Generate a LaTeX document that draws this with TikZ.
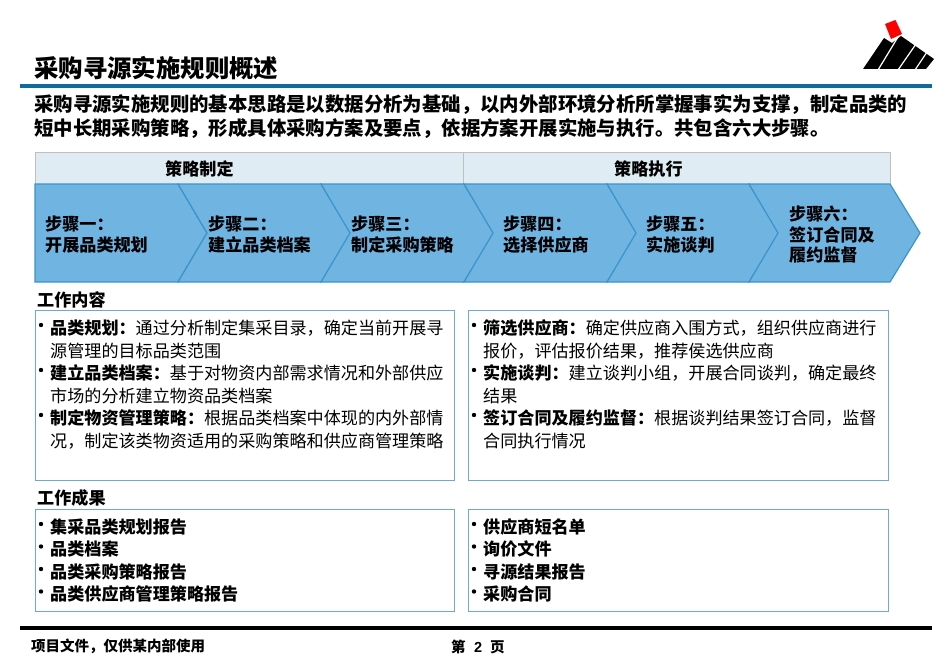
\documentclass[tikz,border=0pt]{standalone}
\usepackage{fontspec}
\setmainfont{Noto Sans CJK SC}
\setsansfont{Liberation Sans}
\definecolor{rulecol}{HTML}{0F6A9E}
\definecolor{headfill}{HTML}{DFECF4}
\definecolor{stepfill}{HTML}{70B4E1}
\definecolor{stepline}{HTML}{3B94C9}
\definecolor{boxline}{HTML}{6FA9CB}
\tikzset{
  ttl/.style={anchor=west,inner sep=0,font=\bfseries\fontsize{24.4}{26}\selectfont},
  lead/.style={anchor=west,inner sep=0,font=\bfseries\fontsize{19.4}{22}\selectfont},
  txt/.style={anchor=west,inner sep=0,font=\fontsize{17.1}{20}\selectfont},
  btxt/.style={txt,font=\bfseries\fontsize{17.1}{20}\selectfont},
  foot/.style={anchor=west,inner sep=0,font=\bfseries\fontsize{14.5}{16}\selectfont},
  headbox/.style={anchor=north west,draw=black!25,fill=headfill,line width=1pt,inner sep=0,minimum width=428pt,minimum height=32pt},
  workbox/.style={anchor=north west,draw=boxline,line width=1.2pt,inner sep=0,minimum width=419pt},
  dot/.style={circle,fill=black,inner sep=0,minimum size=4.4pt}
}
\begin{document}
\begin{tikzpicture}[x=1pt,y=-1pt]
\useasboundingbox (0,0) rectangle (950,658);
% logo
\fill [red] (885,24)--(895.5,20)--(902,34)--(891,39)--cycle;
\fill [black] (863,69)--(884,38)--(892,43)--(901,36)--(934,59)--(926,69)--cycle;
\draw [white, line width=1.2pt] (878,70)--(898,37) (898,70)--(916,44) (915,70)--(927,52);
% title
\node [ttl] (title) at (34,68) {采购寻源实施规则概述};
\draw [rulecol, line width=3.5pt] (20,86)--(932,86);
\node [lead] (leadone) at (34,105) {采购寻源实施规则的基本思路是以数据分析为基础，以内外部环境分析所掌握事实为支撑，制定品类的};
\node [lead] (leadtwo) at (34,128.5) {短中长期采购策略，形成具体采购方案及要点，依据方案开展实施与执行。共包含六大步骤。};
% phases
\node [headbox] (plan) at (35,152) {};
\node [headbox,minimum width=427pt] (exec) at (463,152) {};
\node [btxt] (plantxt) at (165,169) {策略制定};
\node [btxt] (exectxt) at (614,169) {策略执行};
% steps
\draw [stepline, fill=stepfill, line width=1.2pt] (35,184)--(178,184)--(207,233)--(178,282)--(35,282)--cycle;
\foreach \l/\r in {178/321,321/464,464/607,607/749,749/890}
  \draw [stepline, fill=stepfill, line width=1.2pt] (\l,184)--(\r,184)--(\r+30,233)--(\r,282)--(\l,282)--(\l+29,233)--cycle;
\node [btxt] (stepa) at (45,224) {步骤一：};
\node [btxt] (stepatxt) at (45,245) {开展品类规划};
\node [btxt] (stepb) at (208,224) {步骤二：};
\node [btxt] (stepbtxt) at (208,245) {建立品类档案};
\node [btxt] (stepc) at (351,224) {步骤三：};
\node [btxt] (stepctxt) at (351,245) {制定采购策略};
\node [btxt] (stepd) at (503,224) {步骤四：};
\node [btxt] (stepdtxt) at (503,245) {选择供应商};
\node [btxt] (stepe) at (646,224) {步骤五：};
\node [btxt] (stepetxt) at (646,245) {实施谈判};
\node [btxt] (stepf) at (789,214) {步骤六：};
\node [btxt] (stepftxt) at (789,234.5) {签订合同及};
\node [btxt] (stepfend) at (789,255) {履约监督};
% work content
\node [btxt] (contenthead) at (37,300) {工作内容};
\node [workbox,minimum height=170pt] (contentl) at (35,310) {};
\node [workbox,minimum height=170pt,minimum width=420pt] (contentr) at (468,310) {};
\foreach \x in {41,474}
  \foreach \y in {325,370,415}
    \node [dot] at (\x,\y) {};
\node [txt] (cla) at (50,328) {\textbf{品类规划：}通过分析制定集采目录，确定当前开展寻};
\node [txt] (clb) at (50,351) {源管理的目标品类范围};
\node [txt] (clc) at (50,373) {\textbf{建立品类档案：}基于对物资内部需求情况和外部供应};
\node [txt] (cld) at (50,396) {市场的分析建立物资品类档案};
\node [txt] (cle) at (50,418) {\textbf{制定物资管理策略：}根据品类档案中体现的内外部情};
\node [txt] (clf) at (50,441) {况，制定该类物资适用的采购策略和供应商管理策略};
\node [txt] (cra) at (483,328) {\textbf{筛选供应商：}确定供应商入围方式，组织供应商进行};
\node [txt] (crb) at (483,351) {报价，评估报价结果，推荐侯选供应商};
\node [txt] (crc) at (483,373) {\textbf{实施谈判：}建立谈判小组，开展合同谈判，确定最终};
\node [txt] (crd) at (483,396) {结果};
\node [txt] (cre) at (483,418) {\textbf{签订合同及履约监督：}根据谈判结果签订合同，监督};
\node [txt] (crf) at (483,441) {合同执行情况};
% work results
\node [btxt] (resulthead) at (37,498) {工作成果};
\node [workbox,minimum height=102pt] (resultl) at (35,509) {};
\node [workbox,minimum height=102pt,minimum width=420pt] (resultr) at (468,509) {};
\foreach \x in {41,474}
  \foreach \y in {524,546.5,569,591.5}
    \node [dot] at (\x,\y) {};
\node [btxt] (rla) at (50,527) {集采品类规划报告};
\node [btxt] (rlb) at (50,549) {品类档案};
\node [btxt] (rlc) at (50,572) {品类采购策略报告};
\node [btxt] (rld) at (50,594) {品类供应商管理策略报告};
\node [btxt] (rra) at (483,527) {供应商短名单};
\node [btxt] (rrb) at (483,549) {询价文件};
\node [btxt] (rrc) at (483,572) {寻源结果报告};
\node [btxt] (rrd) at (483,594) {采购合同};
% footer
\draw [black, line width=3.5pt] (20,628)--(932,628);
\node [foot] (footnote) at (31,646.5) {项目文件，仅供某内部使用};
\node [foot] (pagea) at (451,647) {第};
\node [foot] (pagen) at (474,647) {\sffamily 2};
\node [foot] (pageb) at (490,647) {页};
\end{tikzpicture}
\end{document}
